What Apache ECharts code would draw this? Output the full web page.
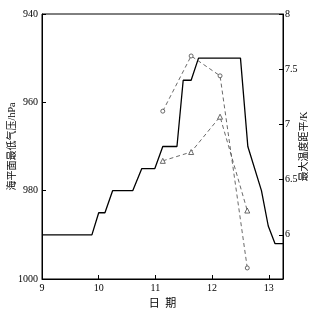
<!DOCTYPE html>
<html>
<head>
<meta charset="utf-8">
<script src="https://cdn.jsdelivr.net/npm/echarts@6/dist/echarts.min.js"></script>
<style>html,body{margin:0;padding:0;background:#fff;}#c{width:334px;height:321px;}</style>
</head>
<body>
<div id="c"></div>
<script>
// Sea-level minimum pressure (hPa) vs date
const pressureDays   = [9.0, 9.88, 10.0, 10.11, 10.245, 10.6, 10.76, 10.99, 11.13, 11.38, 11.49, 11.63, 11.76, 12.5, 12.63, 12.87, 12.99, 13.11, 13.25];
const pressureValues = [990, 990, 985, 985, 980, 980, 975, 975, 970, 970, 955, 955, 950, 950, 970, 980, 988, 992, 992];
// Maximum temperature anomaly (K)
const tempDays        = [11.13, 11.63, 12.14, 12.62];
const circleValues    = [7.12, 7.62, 7.44, 5.70];
const triangleValues  = [6.67, 6.75, 7.07, 6.22];
// Tick labels
const xTicks      = [9, 10, 11, 12, 13];
const leftTicks   = [940, 960, 980, 1000];
const rightTicks  = [6, 6.5, 7, 7.5, 8];

const FONT = '"Liberation Serif", "Noto Sans CJK SC", serif';
const zip = (a, b) => a.map((v, i) => [v, b[i]]);
const plain = v => String(v);

const chart = echarts.init(document.getElementById('c'), null, {renderer: 'canvas'});
chart.setOption({
  animation: false,
  backgroundColor: '#fff',
  textStyle: {fontFamily: FONT, color: '#000'},
  grid: {left: 42, right: 51, top: 14, bottom: 42, containLabel: false, outerBoundsMode: 'none',
         show: true, borderColor: '#000', borderWidth: 1, backgroundColor: 'transparent'},
  xAxis: {
    type: 'value', min: 9, max: 13.25,
    name: '日  期', nameLocation: 'middle', nameGap: 20, nameMoveOverlap: false,
    nameTextStyle: {fontFamily: FONT, fontSize: 11, color: '#000'},
    axisLine: {show: true, lineStyle: {color: '#000', width: 1}},
    axisTick: {show: true, inside: true, length: 4, lineStyle: {color: '#000'}, customValues: xTicks},
    axisLabel: {fontFamily: FONT, fontSize: 10, color: '#000', margin: 4, customValues: xTicks, formatter: plain},
    splitLine: {show: false}
  },
  yAxis: [{
    type: 'value', min: 940, max: 1000, interval: 20, inverse: true, position: 'left',
    name: '海平面最低气压/hPa', nameLocation: 'middle', nameGap: 25, nameRotate: 90, nameMoveOverlap: false,
    nameTextStyle: {fontFamily: FONT, fontSize: 10, color: '#000'},
    axisLine: {show: true, lineStyle: {color: '#000', width: 1}},
    axisTick: {show: true, inside: true, length: 4, lineStyle: {color: '#000'}},
    axisLabel: {fontFamily: FONT, fontSize: 10, color: '#000', margin: 4, customValues: leftTicks, formatter: plain},
    splitLine: {show: false}
  }, {
    type: 'value', min: 5.6, max: 8, position: 'right',
    name: '最大温度距平/K', nameLocation: 'middle', nameGap: 16, nameRotate: 90, nameMoveOverlap: false,
    nameTextStyle: {fontFamily: FONT, fontSize: 10, color: '#000'},
    axisLine: {show: true, lineStyle: {color: '#000', width: 1}},
    axisTick: {show: true, inside: true, length: 4, lineStyle: {color: '#000'}, customValues: rightTicks},
    axisLabel: {fontFamily: FONT, fontSize: 10, color: '#000', margin: 2, customValues: rightTicks, formatter: plain},
    splitLine: {show: false}
  }],
  series: [{
    type: 'line', yAxisIndex: 0, data: zip(pressureDays, pressureValues),
    showSymbol: false, symbol: 'none',
    lineStyle: {color: '#000', width: 1.3}
  }, {
    type: 'line', yAxisIndex: 1, data: zip(tempDays, circleValues),
    symbol: 'circle', symbolSize: 4,
    itemStyle: {color: '#fff', borderColor: '#444', borderWidth: 0.8},
    lineStyle: {color: '#444', width: 0.8, type: [4, 3]}
  }, {
    type: 'line', yAxisIndex: 1, data: zip(tempDays, triangleValues),
    symbol: 'triangle', symbolSize: 5,
    itemStyle: {color: '#fff', borderColor: '#444', borderWidth: 0.8},
    lineStyle: {color: '#444', width: 0.8, type: [4, 3]}
  }]
});
</script>
</body>
</html>
